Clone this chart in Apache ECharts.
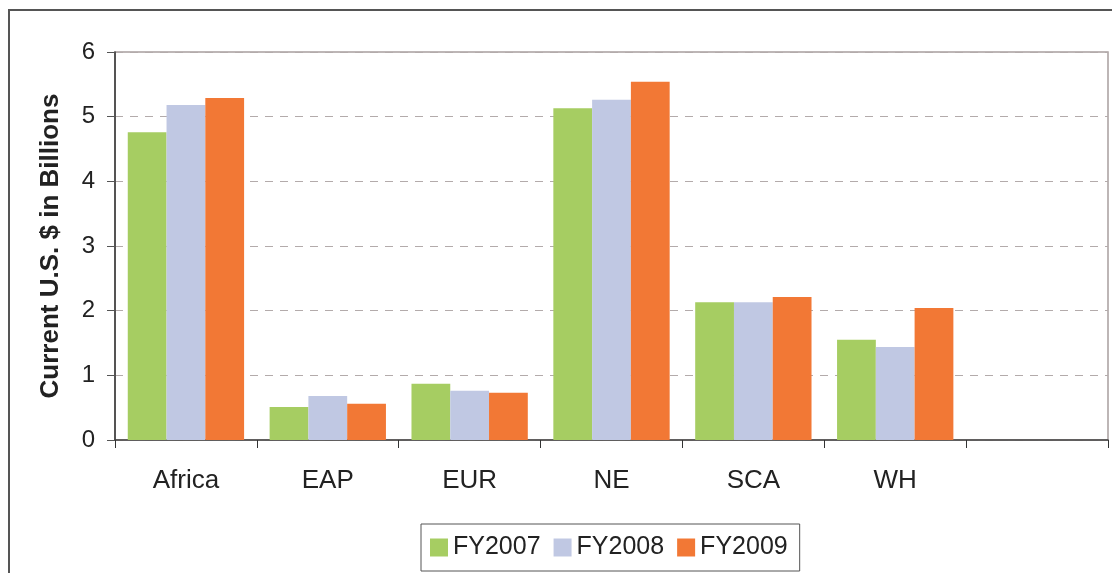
<!DOCTYPE html>
<html>
<head>
<meta charset="utf-8">
<script src="https://cdn.jsdelivr.net/npm/echarts@6/dist/echarts.min.js"></script>
<style>
  html, body { margin: 0; padding: 0; background: #fff; }
  #chart { width: 1112px; height: 573px; }
</style>
</head>
<body>
<div id="chart"></div>
<script>
// regions (last slot is empty in the original)
const regions = ['Africa', 'EAP', 'EUR', 'NE', 'SCA', 'WH', '']
const fy2007 = [4.76, 0.51, 0.87, 5.13, 2.13, 1.55, null]
const fy2008 = [5.18, 0.68, 0.76, 5.26, 2.13, 1.44, null]
const fy2009 = [5.29, 0.56, 0.73, 5.54, 2.21, 2.04, null]
const yTicks = [0, 1, 2, 3, 4, 5, 6]

const font = '"Liberation Sans", Arial, sans-serif'
const chart = echarts.init(document.getElementById('chart'))

const bar = (name, data, color) => ({
  name: name,
  type: 'bar',
  data: data,
  barGap: '0%',
  barCategoryGap: '18%',
  itemStyle: { color: color },
  emphasis: { disabled: true }
})

chart.setOption({
  animation: false,
  textStyle: { fontFamily: font },
  // outer frame of the picture
  graphic: [{
    type: 'rect',
    shape: { x: 9, y: 10, width: 1120, height: 600 },
    style: { fill: null, stroke: '#555', lineWidth: 2 },
    silent: true
  }],
  grid: {
    left: 115,
    right: 4,
    top: 52,
    bottom: 133,
    show: true,
    borderColor: '#a89f9f',
    borderWidth: 1.5
  },
  legend: {
    left: 421,
    top: 524,
    itemWidth: 18,
    itemHeight: 18,
    itemGap: 13,
    padding: [11, 12, 11, 9],
    borderColor: '#555',
    borderWidth: 1,
    icon: 'rect',
    textStyle: { fontSize: 25, color: '#222', fontFamily: font },
    data: ['FY2007', 'FY2008', 'FY2009']
  },
  xAxis: {
    type: 'category',
    data: regions,
    axisLine: { lineStyle: { color: '#444', width: 1.5 } },
    axisTick: { show: true, length: 8, lineStyle: { color: '#333' } },
    axisLabel: { fontSize: 26, color: '#222', margin: 28, fontFamily: font },
    splitLine: { show: false }
  },
  yAxis: {
    type: 'value',
    min: yTicks[0],
    max: yTicks[yTicks.length - 1],
    interval: 1,
    name: 'Current U.S. $ in Billions',
    nameLocation: 'middle',
    nameGap: 51,
    nameTextStyle: { fontSize: 26, fontWeight: 'bold', color: '#222', fontFamily: font },
    axisLine: { show: true, lineStyle: { color: '#333', width: 1.5 } },
    axisTick: { show: true, length: 8, lineStyle: { color: '#555' } },
    axisLabel: { fontSize: 24, color: '#222', margin: 20, fontFamily: font },
    splitLine: { show: true, lineStyle: { color: '#b3abab', type: [8, 7], width: 1 } }
  },
  series: [
    bar('FY2007', fy2007, '#a6cd62'),
    bar('FY2008', fy2008, '#c0c8e3'),
    bar('FY2009', fy2009, '#f27835')
  ]
})
</script>
</body>
</html>
